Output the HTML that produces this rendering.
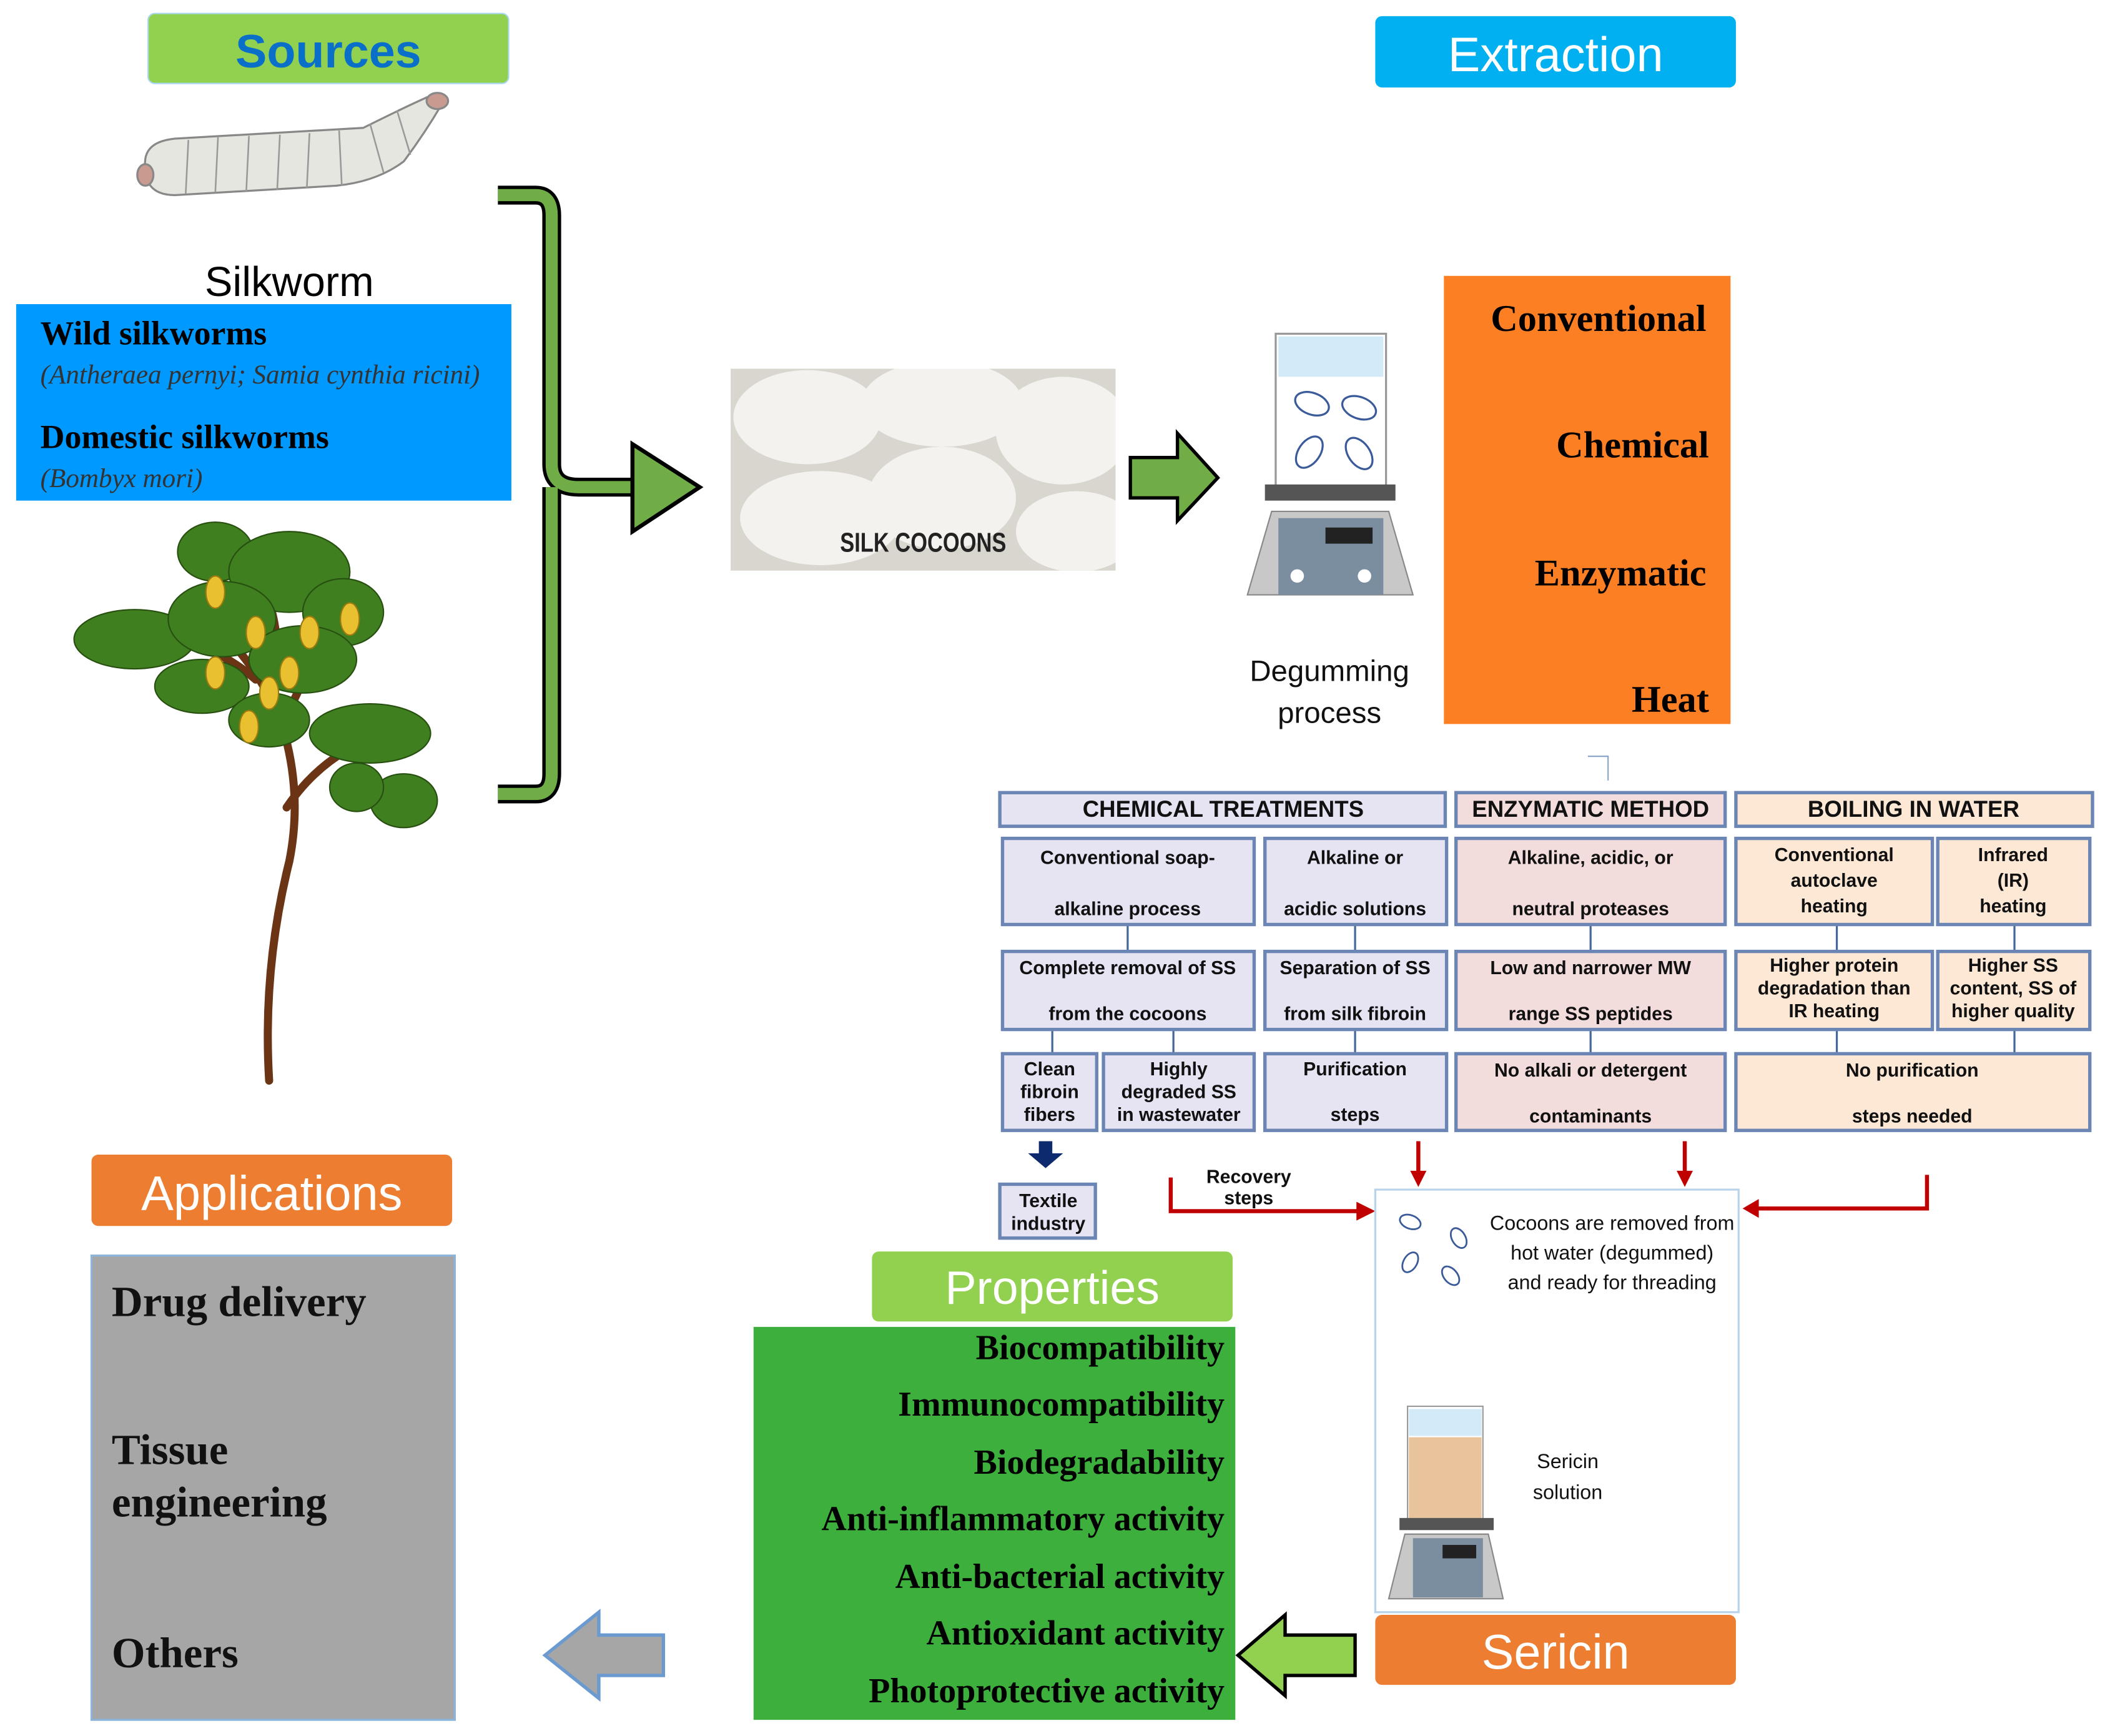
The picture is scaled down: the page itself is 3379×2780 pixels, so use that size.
<!DOCTYPE html>
<html><head><meta charset="utf-8"><style>html,body{margin:0;padding:0;background:#fff}svg{display:block}</style></head><body>
<svg width="3379" height="2780" viewBox="0 0 1568 1290" preserveAspectRatio="none" xmlns="http://www.w3.org/2000/svg">
<defs><style>
.ss{font-family:"Liberation Sans",sans-serif}
.sf{font-family:"Liberation Serif",serif;font-weight:bold}
.tb{fill:#e6e4f3;stroke:#6b86b5;stroke-width:2.5}
.tp{fill:#f3dcdc;stroke:#6b86b5;stroke-width:2.5}
.to{fill:#fde8d6;stroke:#6b86b5;stroke-width:2.5}
.tt{font-family:"Liberation Sans",sans-serif;font-weight:bold;font-size:14px;fill:#111;text-anchor:middle}
.th{font-family:"Liberation Sans",sans-serif;font-weight:bold;font-size:17px;fill:#111;text-anchor:middle}
</style>
<clipPath id="cc"><rect x="543" y="274" width="286" height="150"/></clipPath>
</defs>
<rect width="1568" height="1290" fill="#fff"/>
<!-- Sources -->
<rect x="110" y="10" width="268" height="52" rx="5" fill="#92d050" stroke="#a8d8f0"/>
<text x="244" y="50" class="ss" font-size="35" font-weight="bold" fill="#0a6fc8" text-anchor="middle">Sources</text>
<!-- silkworm -->
<g stroke="#888" stroke-width="1.5" fill="#e6e6e0">
<path d="M108,118 Q110,105 130,103 L270,95 Q300,80 318,72 L328,78 Q315,100 300,120 Q280,135 250,138 L130,145 Q105,145 108,118Z"/>
<ellipse cx="325" cy="75" rx="8" ry="6" fill="#c89a90"/>
<ellipse cx="108" cy="130" rx="6" ry="8" fill="#c89a90"/>
</g>
<g stroke="#999" stroke-width="1.2"><line x1="140" y1="104" x2="138" y2="144"/><line x1="162" y1="102" x2="160" y2="143"/><line x1="185" y1="101" x2="183" y2="142"/><line x1="208" y1="100" x2="206" y2="141"/><line x1="230" y1="99" x2="228" y2="140"/><line x1="252" y1="97" x2="254" y2="138"/><line x1="275" y1="92" x2="285" y2="128"/><line x1="295" y1="82" x2="305" y2="115"/></g>
<text x="215" y="220" class="ss" font-size="31" fill="#000" text-anchor="middle">Silkworm</text>
<rect x="12" y="226" width="368" height="146" fill="#0099ff"/>
<text x="30" y="256" class="sf" font-size="25" fill="#000">Wild silkworms</text>
<text x="30" y="285" font-family="Liberation Serif,serif" font-style="italic" font-size="20" fill="#333">(Antheraea pernyi; Samia cynthia ricini)</text>
<text x="30" y="333" class="sf" font-size="25" fill="#000">Domestic silkworms</text>
<text x="30" y="362" font-family="Liberation Serif,serif" font-style="italic" font-size="20" fill="#333">(Bombyx mori)</text>
<!-- tree -->
<g stroke="#6b3515" stroke-width="6" fill="none" stroke-linecap="round">
<path d="M200,803 Q195,720 215,640 Q225,590 210,540 Q195,500 165,470"/>
<path d="M213,600 Q240,560 285,545"/>
<path d="M210,540 Q230,490 260,450"/>
<path d="M190,505 Q150,470 90,470"/>
<path d="M205,470 Q200,430 170,395"/>
</g>
<g fill="#3f7f1f" stroke="#274f10" stroke-width="1">
<ellipse cx="160" cy="410" rx="28" ry="22"/><ellipse cx="215" cy="425" rx="45" ry="30"/><ellipse cx="255" cy="455" rx="30" ry="25"/>
<ellipse cx="100" cy="475" rx="45" ry="22"/><ellipse cx="165" cy="460" rx="40" ry="28"/><ellipse cx="225" cy="490" rx="40" ry="25"/>
<ellipse cx="150" cy="510" rx="35" ry="20"/><ellipse cx="200" cy="535" rx="30" ry="20"/>
<ellipse cx="275" cy="545" rx="45" ry="22"/><ellipse cx="300" cy="595" rx="25" ry="20"/><ellipse cx="265" cy="585" rx="20" ry="18"/>
</g>
<g fill="#e8c030" stroke="#9a7a10"><ellipse cx="160" cy="440" rx="7" ry="12"/><ellipse cx="190" cy="470" rx="7" ry="12"/><ellipse cx="230" cy="470" rx="7" ry="12"/><ellipse cx="260" cy="460" rx="7" ry="12"/><ellipse cx="160" cy="500" rx="7" ry="12"/><ellipse cx="215" cy="500" rx="7" ry="12"/><ellipse cx="185" cy="540" rx="7" ry="12"/><ellipse cx="200" cy="515" rx="7" ry="12"/></g>
<!-- bracket -->
<path d="M370,145 L398,145 Q410,145 410,160 L410,345 Q410,362 430,362 L480,362 M410,362 Q410,380 410,380 L410,575 Q410,590 398,590 L370,590" fill="none" stroke="#000" stroke-width="14"/>
<path d="M370,145 L398,145 Q410,145 410,160 L410,345 Q410,362 430,362 L480,362 M410,362 L410,575 Q410,590 398,590 L370,590" fill="none" stroke="#70ad47" stroke-width="9"/>
<polygon points="470,330 520,362 470,395" fill="#70ad47" stroke="#000" stroke-width="3"/>
<!-- cocoons -->
<rect x="543" y="274" width="286" height="150" fill="#d9d6cf"/>
<g fill="#f4f2ee" clip-path="url(#cc)"><ellipse cx="600" cy="310" rx="55" ry="35"/><ellipse cx="700" cy="300" rx="60" ry="32"/><ellipse cx="790" cy="320" rx="50" ry="40"/><ellipse cx="610" cy="385" rx="60" ry="35"/><ellipse cx="700" cy="370" rx="55" ry="38"/><ellipse cx="800" cy="395" rx="45" ry="30"/></g>
<text x="686" y="410" class="ss" font-size="20" font-weight="bold" fill="#222" text-anchor="middle" transform="translate(686,410) scale(0.8,1) translate(-686,-410)">SILK COCOONS</text>
<polygon points="840,340 875,340 875,322 905,355 875,387 875,370 840,370" fill="#70ad47" stroke="#000" stroke-width="2.5"/>
<!-- Extraction -->
<rect x="1022" y="12" width="268" height="53" rx="5" fill="#00b0f0"/>
<text x="1156" y="53" class="ss" font-size="36" fill="#fff" text-anchor="middle">Extraction</text>
<!-- beaker -->
<rect x="948" y="248" width="82" height="115" fill="#fff" stroke="#999" stroke-width="1.5"/>
<rect x="950" y="250" width="78" height="30" fill="#d3ebf8"/>
<g fill="#fff" stroke="#3a5a9a" stroke-width="1.5"><ellipse cx="975" cy="300" rx="13" ry="8" transform="rotate(20 975 300)"/><ellipse cx="1010" cy="303" rx="13" ry="8" transform="rotate(20 1010 303)"/><ellipse cx="973" cy="336" rx="8" ry="13" transform="rotate(35 973 336)"/><ellipse cx="1010" cy="337" rx="8" ry="13" transform="rotate(-35 1010 337)"/></g>
<rect x="940" y="360" width="97" height="12" fill="#555"/>
<polygon points="945,380 1032,380 1050,442 927,442" fill="#c8c8c8" stroke="#888"/>
<rect x="950" y="385" width="78" height="57" fill="#7a8ea0"/>
<rect x="985" y="392" width="35" height="12" fill="#222"/>
<circle cx="964" cy="428" r="5" fill="#fff"/><circle cx="1014" cy="428" r="5" fill="#fff"/>
<text x="988" y="506" class="ss" font-size="22" fill="#111" text-anchor="middle">Degumming</text>
<text x="988" y="537" class="ss" font-size="22" fill="#111" text-anchor="middle">process</text>
<rect x="1073" y="205" width="213" height="333" fill="#fd7f24"/>
<g class="sf" font-size="28" fill="#000" text-anchor="end"><text x="1268" y="246">Conventional</text><text x="1270" y="340">Chemical</text><text x="1268" y="435">Enzymatic</text><text x="1270" y="529">Heat</text></g>
<path d="M1180,562 L1195,562 L1195,580" fill="none" stroke="#8aa6c8" stroke-width="1"/>
<!-- table -->
<rect x="743" y="589" width="331" height="25" class="tb"/><text x="909" y="607" class="th">CHEMICAL  TREATMENTS</text>
<rect x="1082" y="589" width="200" height="25" class="tp"/><text x="1182" y="607" class="th">ENZYMATIC METHOD</text>
<rect x="1290" y="589" width="265" height="25" class="to"/><text x="1422" y="607" class="th">BOILING IN WATER</text>
<g stroke="#45679a" stroke-width="1.5">
<line x1="838" y1="687" x2="838" y2="707"/><line x1="1007" y1="687" x2="1007" y2="707"/><line x1="1182" y1="687" x2="1182" y2="707"/><line x1="1365" y1="687" x2="1365" y2="707"/><line x1="1497" y1="687" x2="1497" y2="707"/>
<line x1="782" y1="765" x2="782" y2="783"/><line x1="872" y1="765" x2="872" y2="783"/><line x1="1007" y1="765" x2="1007" y2="783"/><line x1="1182" y1="765" x2="1182" y2="783"/><line x1="1365" y1="765" x2="1365" y2="783"/><line x1="1497" y1="765" x2="1497" y2="783"/>
</g>
<rect x="745" y="623" width="187" height="64" class="tb"/><text x="838" y="642" class="tt" font-size="15">Conventional soap-</text><text x="838" y="680" class="tt" font-size="15">alkaline process</text>
<rect x="940" y="623" width="135" height="64" class="tb"/><text x="1007" y="642" class="tt" font-size="15">Alkaline or</text><text x="1007" y="680" class="tt" font-size="15">acidic solutions</text>
<rect x="1082" y="623" width="200" height="64" class="tp"/><text x="1182" y="642" class="tt" font-size="15">Alkaline, acidic, or</text><text x="1182" y="680" class="tt" font-size="15">neutral proteases</text>
<rect x="1290" y="623" width="146" height="64" class="to"/><text x="1363" y="640" class="tt" font-size="15">Conventional</text><text x="1363" y="659" class="tt" font-size="15">autoclave</text><text x="1363" y="678" class="tt" font-size="15">heating</text>
<rect x="1440" y="623" width="113" height="64" class="to"/><text x="1496" y="640" class="tt" font-size="15">Infrared</text><text x="1496" y="659" class="tt" font-size="15">(IR)</text><text x="1496" y="678" class="tt" font-size="15">heating</text>
<rect x="745" y="707" width="187" height="58" class="tb"/><text x="838" y="724" class="tt" font-size="13">Complete removal of SS</text><text x="838" y="758" class="tt" font-size="13">from the cocoons</text>
<rect x="940" y="707" width="135" height="58" class="tb"/><text x="1007" y="724" class="tt" font-size="13">Separation of SS</text><text x="1007" y="758" class="tt" font-size="13">from silk fibroin</text>
<rect x="1082" y="707" width="200" height="58" class="tp"/><text x="1182" y="724" class="tt" font-size="13">Low and narrower MW</text><text x="1182" y="758" class="tt" font-size="13">range SS peptides</text>
<rect x="1290" y="707" width="146" height="58" class="to"/><text x="1363" y="722" class="tt" font-size="13">Higher protein</text><text x="1363" y="739" class="tt" font-size="13">degradation than</text><text x="1363" y="756" class="tt" font-size="13">IR heating</text>
<rect x="1440" y="707" width="113" height="58" class="to"/><text x="1496" y="722" class="tt" font-size="13">Higher SS</text><text x="1496" y="739" class="tt" font-size="13">content, SS of</text><text x="1496" y="756" class="tt" font-size="13">higher quality</text>
<rect x="745" y="783" width="70" height="57" class="tb"/><text x="780" y="799" class="tt" font-size="13">Clean</text><text x="780" y="816" class="tt" font-size="13">fibroin</text><text x="780" y="833" class="tt" font-size="13">fibers</text>
<rect x="820" y="783" width="112" height="57" class="tb"/><text x="876" y="799" class="tt" font-size="13">Highly</text><text x="876" y="816" class="tt" font-size="13">degraded SS</text><text x="876" y="833" class="tt" font-size="13">in wastewater</text>
<rect x="940" y="783" width="135" height="57" class="tb"/><text x="1007" y="799" class="tt" font-size="13">Purification</text><text x="1007" y="833" class="tt" font-size="13">steps</text>
<rect x="1082" y="783" width="200" height="57" class="tp"/><text x="1182" y="800" class="tt" font-size="13">No alkali or detergent</text><text x="1182" y="834" class="tt" font-size="13">contaminants</text>
<rect x="1290" y="783" width="263" height="57" class="to"/><text x="1421" y="800" class="tt" font-size="13">No purification</text><text x="1421" y="834" class="tt" font-size="13">steps needed</text>
<!-- arrows -->
<polygon points="772,848 782,848 782,857 790,857 777,868 764,857 772,857" fill="#0e2a6e"/>
<rect x="743" y="880" width="71" height="40" class="tb"/><text x="779" y="897" class="tt" font-size="13">Textile</text><text x="779" y="914" class="tt" font-size="13">industry</text>
<g stroke="#c00000" stroke-width="3" fill="none"><line x1="1054" y1="848" x2="1054" y2="872"/><line x1="1252" y1="848" x2="1252" y2="872"/><path d="M870,875 L870,900 L1010,900"/><path d="M1432,873 L1432,898 L1305,898"/></g>
<g fill="#c00000"><polygon points="1048,870 1060,870 1054,882"/><polygon points="1246,870 1258,870 1252,882"/><polygon points="1008,893 1022,900 1008,907"/><polygon points="1307,891 1295,898 1307,905"/></g>
<text x="928" y="879" class="tt" font-size="13">Recovery</text><text x="928" y="895" class="tt" font-size="13">steps</text>
<!-- sericin panel -->
<rect x="1022" y="884" width="270" height="314" fill="#fff" stroke="#b8d4ec" stroke-width="1.5"/>
<g fill="#fff" stroke="#3a5a9a" stroke-width="1.3"><ellipse cx="1048" cy="908" rx="8" ry="5" transform="rotate(20 1048 908)"/><ellipse cx="1084" cy="920" rx="5" ry="8" transform="rotate(-30 1084 920)"/><ellipse cx="1048" cy="938" rx="5" ry="8" transform="rotate(30 1048 938)"/><ellipse cx="1078" cy="948" rx="5" ry="8" transform="rotate(-40 1078 948)"/></g>
<g class="ss" font-size="15" fill="#111" text-anchor="middle"><text x="1198" y="914">Cocoons are removed from</text><text x="1198" y="936">hot water (degummed)</text><text x="1198" y="958">and ready for threading</text><text x="1165" y="1091">Sericin</text><text x="1165" y="1114">solution</text></g>
<rect x="1046" y="1045" width="56" height="85" fill="#fff" stroke="#999"/>
<rect x="1047" y="1068" width="54" height="62" fill="#e9c39c"/><rect x="1047" y="1047" width="54" height="20" fill="#d3ebf8"/>
<rect x="1040" y="1128" width="70" height="9" fill="#555"/>
<polygon points="1044,1140 1106,1140 1117,1188 1032,1188" fill="#c8c8c8" stroke="#888"/>
<rect x="1050" y="1143" width="52" height="44" fill="#7a8ea0"/><rect x="1072" y="1148" width="25" height="10" fill="#222"/>
<rect x="1022" y="1200" width="268" height="52" rx="5" fill="#ed7d31"/>
<text x="1156" y="1240" class="ss" font-size="36" fill="#fff" text-anchor="middle">Sericin</text>
<!-- properties -->
<rect x="648" y="930" width="268" height="52" rx="5" fill="#92d050"/>
<text x="782" y="969" class="ss" font-size="35" fill="#fff" text-anchor="middle">Properties</text>
<rect x="560" y="986" width="358" height="292" fill="#3caf3c"/>
<g class="sf" font-size="26" fill="#000" text-anchor="end"><text x="910" y="1010">Biocompatibility</text><text x="910" y="1052">Immunocompatibility</text><text x="910" y="1095">Biodegradability</text><text x="910" y="1137">Anti-inflammatory activity</text><text x="910" y="1180">Anti-bacterial activity</text><text x="910" y="1222">Antioxidant activity</text><text x="910" y="1265">Photoprotective activity</text></g>
<polygon points="1007,1215 955,1215 955,1200 920,1230 955,1260 955,1245 1007,1245" fill="#92d050" stroke="#000" stroke-width="2.5"/>
<!-- applications -->
<rect x="68" y="858" width="268" height="53" rx="5" fill="#ed7d31"/>
<text x="202" y="899" class="ss" font-size="36" fill="#fff" text-anchor="middle">Applications</text>
<rect x="68" y="933" width="270" height="345" fill="#a6a6a6" stroke="#8ab4dc" stroke-width="1.5"/>
<g class="sf" font-size="32" fill="#111"><text x="83" y="978">Drug delivery</text><text x="83" y="1088">Tissue</text><text x="83" y="1127">engineering</text><text x="83" y="1239">Others</text></g>
<polygon points="493,1215 445,1215 445,1198 405,1230 445,1262 445,1245 493,1245" fill="#a6a6a6" stroke="#6b9ad0" stroke-width="2.5"/>
</svg>
</body></html>
